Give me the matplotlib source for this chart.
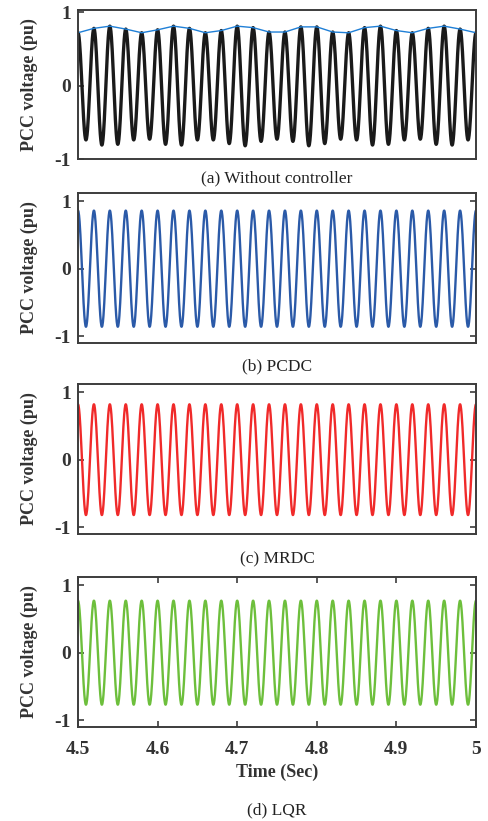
import numpy as np
import matplotlib
matplotlib.use("Agg")
import matplotlib.pyplot as plt

plt.rcParams['font.family'] = ['Liberation Serif', 'DejaVu Serif']

# time of the first extremum, spacing between peaks (50 Hz) and count
t_start = 4.5
period = 0.02
n_peaks = 26

# panel (a): peak and trough values
peaks_a = [0.72, 0.78, 0.81, 0.77, 0.72, 0.76, 0.81, 0.78, 0.72, 0.75, 0.81, 0.79, 0.73,
           0.73, 0.80, 0.80, 0.73, 0.72, 0.79, 0.81, 0.75, 0.72, 0.78, 0.81, 0.77, 0.72]
troughs_a = [-0.74, -0.81, -0.80, -0.74, -0.73, -0.80, -0.81, -0.74, -0.74, -0.79, -0.82,
             -0.76, -0.73, -0.76, -0.82, -0.79, -0.73, -0.74, -0.81, -0.80, -0.74, -0.73,
             -0.80, -0.81, -0.74]

# panels (b)-(d): steady amplitudes
amp_b = 0.86
amp_c = 0.82
amp_d = 0.77

captions = ['(a) Without controller', '(b) PCDC', '(c) MRDC', '(d) LQR']
colors = ['#1a1a1a', '#2b5aa8', '#f02a2a', '#6dbf3c']
xticks = [4.5, 4.6, 4.7, 4.8, 4.9, 5.0]
xticklabels = ['4.5', '4.6', '4.7', '4.8', '4.9', '5']


def wave(peaks, troughs):
    # half-cosine segments between consecutive extrema
    ext = []
    for i in range(len(peaks)):
        ext.append(peaks[i])
        if i < len(troughs):
            ext.append(troughs[i])
    ext = np.array(ext)
    te = t_start + np.arange(len(ext)) * period / 2
    xs, ys = [], []
    for i in range(len(ext) - 1):
        s = np.linspace(0, 1, 30, endpoint=False)
        xs.append(te[i] + s * period / 2)
        ys.append(ext[i] + (ext[i + 1] - ext[i]) * (1 - np.cos(np.pi * s)) / 2)
    xs.append([te[-1]])
    ys.append([ext[-1]])
    return np.concatenate(xs), np.concatenate(ys), te[::2], ext[::2]


fig = plt.figure(figsize=(4.88, 8.21), dpi=100)
W = 488.0
H = 821.0
left = 78 / W
width = (476 - 78) / W
tops = [10, 193, 384, 577]
bots = [159, 343, 534, 727]
cap_y = [178, 366, 559, 810]

series = [
    (peaks_a, troughs_a),
    ([amp_b] * n_peaks, [-amp_b] * (n_peaks - 1)),
    ([amp_c] * n_peaks, [-amp_c] * (n_peaks - 1)),
    ([amp_d] * n_peaks, [-amp_d] * (n_peaks - 1)),
]

for i in range(4):
    ax = fig.add_axes([left, 1 - bots[i] / H, width, (bots[i] - tops[i]) / H])
    x, y, tp, vp = wave(*series[i])
    if i == 0:
        ax.plot(x, y, color=colors[i], lw=2.4)
        ax.plot(tp, vp, color='#1f7fd6', lw=1.0)
        ax.set_ylim(-0.98, 1.03)
    else:
        ax.plot(x, y, color=colors[i], lw=1.7)
        ax.set_ylim(-1.1, 1.12)
    ax.set_xlim(4.5, 5.0)
    ax.set_yticks([-1, 0, 1])
    ax.set_yticklabels(['-1', '0', '1'], fontsize=14, fontweight='bold', color='#333333')
    ax.set_ylabel('PCC voltage (pu)', fontsize=13, fontweight='bold', color='#333333')
    ax.yaxis.set_label_coords(-0.100, 0.5)
    for sp in ax.spines.values():
        sp.set_color('#3c3c3c')
        sp.set_linewidth(1.4)
    ax.tick_params(axis='y', direction='in', length=4, width=1.2, color='#3c3c3c',
                   right=(i > 0), pad=5)
    if i < 3:
        ax.set_xticks([])
    else:
        ax.set_xticks(xticks)
        ax.set_xticklabels(xticklabels, fontsize=14, fontweight='bold', color='#333333')
        ax.tick_params(axis='x', direction='in', length=4, width=1.2, color='#3c3c3c',
                       top=True, pad=10)
        ax.set_xlabel('Time (Sec)', fontsize=13, fontweight='bold', color='#333333', labelpad=4)
    fig.text((78 + 476) / 2 / W, 1 - cap_y[i] / H, captions[i], fontsize=12.5,
             ha='center', va='center', color='#222222')

fig.savefig('out.png', dpi=100)
